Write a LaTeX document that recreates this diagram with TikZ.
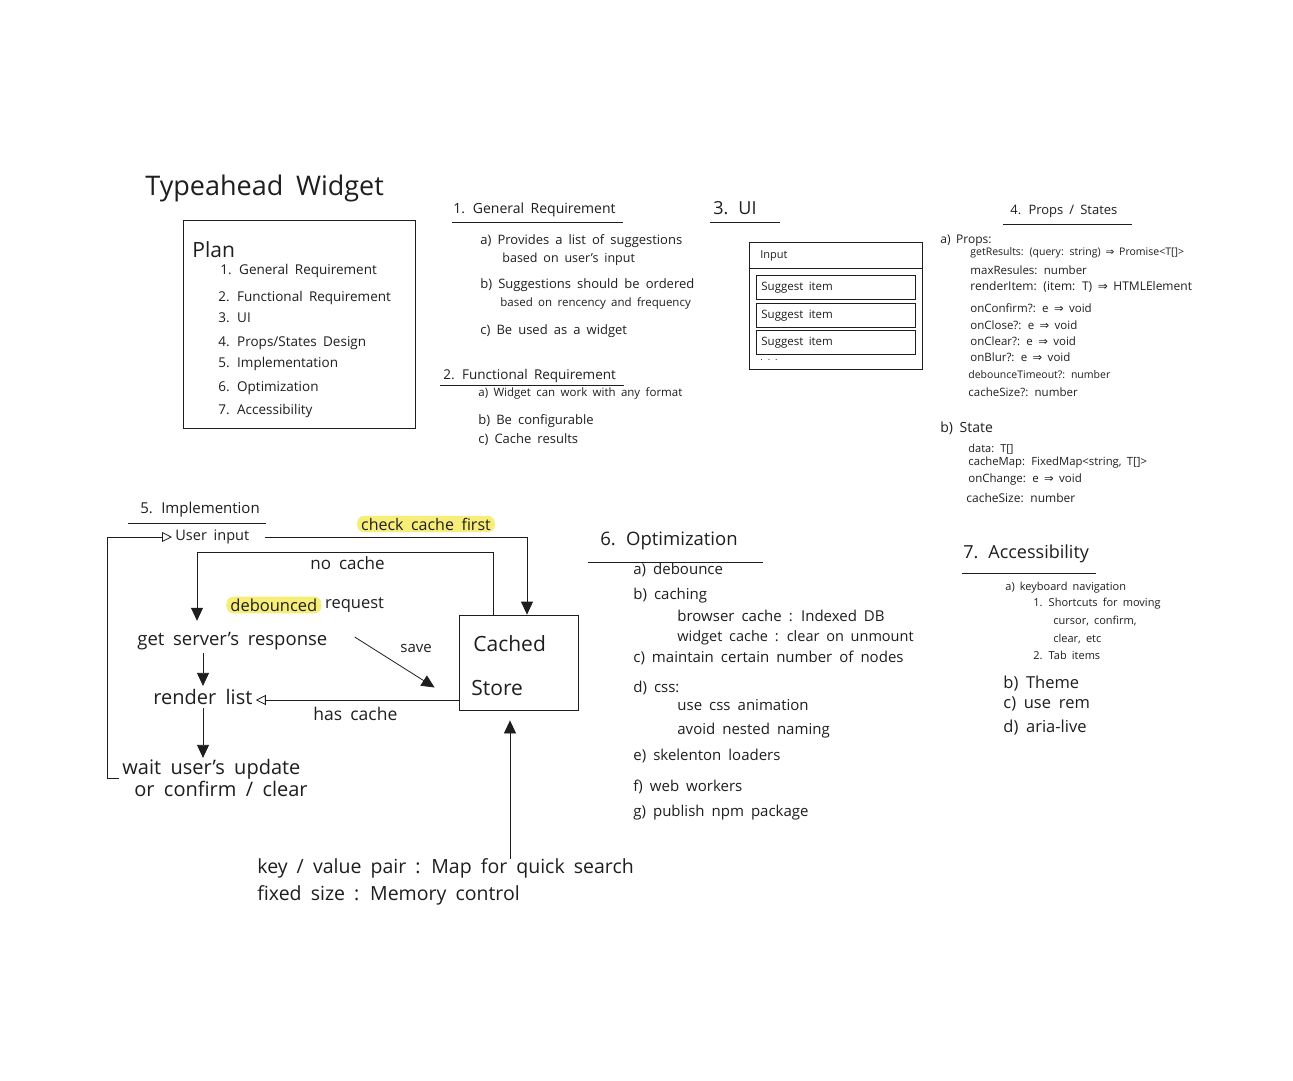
\documentclass[tikz,border=0pt]{standalone}
\usepackage{fontspec}
\setmainfont{Open Sans}[WordSpace=1.8]
\newfontfamily\symf{DejaVu Sans}
\usetikzlibrary{arrows.meta,calc}
\definecolor{ink}{HTML}{1E1E1E}
\definecolor{hl}{HTML}{F7EE7A}
\newcommand\fsz[1]{\fontsize{#1pt}{#1pt}\selectfont}
\newcommand\imp{{\symf ⇒}}
\begin{document}
\begin{tikzpicture}[x=1pt,y=-1pt,
  line width=0.8pt, draw=ink,
  t/.style={anchor=west, inner sep=0pt, text=ink},
  fl/.style={anchor=west, inner sep=3pt, text=ink, font=\fsz{18.5}},
  hlbox/.style={fill=hl, rounded corners=7pt, inner xsep=4pt, inner ysep=2pt, text=ink},
  arr/.style={-{Triangle[length=13pt,width=12pt]}},
  otri/.style={-{Triangle[open,length=10pt,width=10pt]}},
  box/.style={draw, inner sep=0pt}]
\fill[white] (0,0) rectangle (1293,1080);
\useasboundingbox (0,0) rectangle (1293,1080);

% ---------- Title and plan ----------
\node[t,font=\fsz{27}] (title) at (145,188) {Typeahead Widget};
\node[box, minimum width=232, minimum height=208] (plan) at (299,324) {};
\node[t,font=\fsz{21}] (planh) at (192,250) {Plan};
\begin{scope}[every node/.style={t,font=\fsz{13.5}}]
\node (p1) at (220,271) {1. General Requirement};
\node (p2) at (218,298) {2. Functional Requirement};
\node (p3) at (218,318) {3. UI};
\node (p4) at (218,343) {4. Props/States Design};
\node (p5) at (218,364) {5. Implementation};
\node (p6) at (218,388) {6. Optimization};
\node (p7) at (218,411) {7. Accessibility};
\end{scope}

% ---------- 1. General requirement ----------
\node[t,font=\fsz{14}] (s1) at (453,210) {1. General Requirement};
\draw (452,222) -- (623,222);
\begin{scope}[every node/.style={t,font=\fsz{13}}]
\node (s1a) at (480,241) {a) Provides a list of suggestions};
\node[font=\fsz{12.5}] (s1a2) at (502,259) {based on user's input};
\node (s1b) at (480,285) {b) Suggestions should be ordered};
\node[font=\fsz{11.5}] (s1b2) at (500,303) {based on rencency and frequency};
\node (s1c) at (480,331) {c) Be used as a widget};
\end{scope}

% ---------- 2. Functional requirement ----------
\node[t,font=\fsz{13.5}] (s2) at (443,376) {2. Functional Requirement};
\draw (440,385) -- (624,385);
\node[t,font=\fsz{11.5}] (s2a) at (478,393) {a) Widget can work with any format};
\node[t,font=\fsz{13}] (s2b) at (478,421) {b) Be configurable};
\node[t,font=\fsz{13}] (s2c) at (478,440) {c) Cache results};

% ---------- 3. UI ----------
\node[t,font=\fsz{18}] (s3) at (713,208) {3. UI};
\draw (710,222) -- (780,222);
\node[box, minimum width=173, minimum height=127] (uibox) at (835.5,305.5) {};
\draw (uibox.west |- 0,268) -- (uibox.east |- 0,268);
\node[t,font=\fsz{11}] (uin) at (760,256) {Input};
\foreach \i/\y in {1/287,2/315,3/342}{
  \node[box, minimum width=159, minimum height=24] (sg\i) at (835.5,\y) {};
  \node[t,font=\fsz{11.5}] at (761,\y+1) {Suggest item};
}
\node[t,font=\fsz{9}] (dots) at (760,360) {. . .};

% ---------- 4. Props / States ----------
\node[t,font=\fsz{13}] (s4) at (1010,211) {4. Props / States};
\draw (1003,224) -- (1132,224);
\node[t,font=\fsz{12}] (pa) at (940,241) {a) Props:};
\begin{scope}[every node/.style={t,font=\fsz{11.5}}]
\node[font=\fsz{10.5}] at (970,253) {getResults: (query: string) \imp{} Promise<T[]>};
\node at (970,270) {maxResules: number};
\node[font=\fsz{12}] at (970,287) {renderItem: (item: T) \imp{} HTMLElement};
\node at (970,308) {onConfirm?: e \imp{} void};
\node at (970,325) {onClose?: e \imp{} void};
\node at (970,341) {onClear?: e \imp{} void};
\node at (970,357) {onBlur?: e \imp{} void};
\node[font=\fsz{10.5}] at (968,375) {debounceTimeout?: number};
\node at (968,392) {cacheSize?: number};
\end{scope}
\node[t,font=\fsz{14}] (pb) at (940,428) {b) State};
\begin{scope}[every node/.style={t,font=\fsz{11.5}}]
\node[font=\fsz{11}] at (968,449) {data: T[]};
\node[font=\fsz{11.3}] at (968,463) {cacheMap: FixedMap<string, T[]>};
\node at (968,480) {onChange: e \imp{} void};
\node[font=\fsz{12}] at (966,498) {cacheSize: number};
\end{scope}

% ---------- 5. Implementation flow ----------
\node[t,font=\fsz{15}] (s5) at (140,510) {5. Implemention};
\draw (128,523) -- (266,523);
\node[fl,font=\fsz{14.5}] (ui) at (172,537) {User input};
\node[hlbox,font=\fsz{16}] (ccf) at (426,524) {check cache first};
\node[fl] (gsr) at (134,641) {get server's response};
\node[hlbox,font=\fsz{16.5}, anchor=west] (deb) at (226,605) {debounced};
\node[fl,font=\fsz{16.5}] (req) at (deb.east) {request};
\node[fl,font=\fsz{20}] (rl) at (150,697) {render list};
\node[fl,font=\fsz{20}, align=left] (wait) at (119,778) {wait user's update\\[1pt]\hspace*{12pt}or confirm / clear};
\node[box, minimum width=119, minimum height=95] (cs) at (518.5,662.5) {};
\node[t,font=\fsz{21}] (csa) at (473,644) {Cached};
\node[t,font=\fsz{21}] (csb) at (471,688) {Store};
\node[t,font=\fsz{19.5}, align=left] (note) at (257,882) {key / value pair : Map for quick search\\[6pt]fixed size : Memory control};

\coordinate (ax) at (203,0);
\coordinate (csbot) at ([xshift=-8.5]cs.south);
\draw[otri] (wait.west) -- ++(-12,0) |- (ui.west);
\draw[arr] ([xshift=12]ui.east) -| ([xshift=8.5]cs.north);
\draw[arr] ([xshift=-25.5]cs.north) -- ++(0,-62) -| ([xshift=63,yshift=8]gsr.north west);
\node[t,font=\fsz{17}] (nc) at (310,563) {no cache};
\draw[arr] (gsr.south -| ax) -- (rl.north -| ax);
\draw[arr] (rl.south -| ax) -- ([yshift=-2]wait.north -| ax);
\draw[arr] ([xshift=24,yshift=4]gsr.east) -- ([xshift=-24,yshift=-25]cs.west);
\node[t,font=\fsz{15}] (sv) at (400,648) {save};
\draw[otri] ([yshift=-37.5]cs.west) -- ([yshift=-37.5]cs.west -| rl.east);
\node[t,font=\fsz{17.5}] (hc) at (313,714) {has cache};
\draw[arr] (csbot |- note.north) -- ([yshift=-10]csbot);

% ---------- 6. Optimization ----------
\node[t,font=\fsz{18.5}] (s6) at (600,541) {6. Optimization};
\draw (588,562) -- (763,562);
\begin{scope}[every node/.style={t,font=\fsz{15}}]
\node at (633,570) {a) debounce};
\node at (633,596) {b) caching};
\node at (677,616) {browser cache : Indexed DB};
\node[font=\fsz{14.5}] at (677,638) {widget cache : clear on unmount};
\node at (633,658) {c) maintain certain number of nodes};
\node at (633,688) {d) css:};
\node at (677,705) {use css animation};
\node at (677,731) {avoid nested naming};
\node at (633,756) {e) skelenton loaders};
\node at (633,787) {f) web workers};
\node at (633,813) {g) publish npm package};
\end{scope}

% ---------- 7. Accessibility ----------
\node[t,font=\fsz{18}] (s7) at (963,554) {7. Accessibility};
\draw (962,573) -- (1096,573);
\begin{scope}[every node/.style={t,font=\fsz{11}}]
\node at (1005,588) {a) keyboard navigation};
\node at (1033,604) {1. Shortcuts for moving};
\node at (1053,621) {cursor, confirm,};
\node at (1053,639) {clear, etc};
\node at (1033,655) {2. Tab items};
\end{scope}
\begin{scope}[every node/.style={t,font=\fsz{16.5}}]
\node at (1003,684) {b) Theme};
\node at (1003,704) {c) use rem};
\node at (1003,728) {d) aria-live};
\end{scope}
\end{tikzpicture}
\end{document}
